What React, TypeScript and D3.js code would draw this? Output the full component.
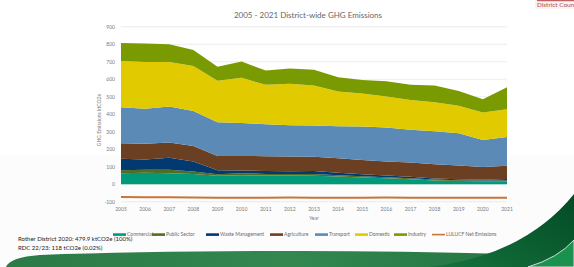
import React, { useRef, useEffect } from "react";
import * as d3 from "d3";

const years = [2005, 2006, 2007, 2008, 2009, 2010, 2011, 2012, 2013, 2014, 2015, 2016, 2017, 2018, 2019, 2020, 2021];
const commercial = [63, 65, 63, 59, 48, 51, 50, 50, 49, 44, 38, 34, 29, 21, 19, 17, 17];
const publicSector = [17, 17, 19, 13, 9, 12, 9, 9, 9, 7, 8, 6, 5, 6, 4, 4, 4];
const wasteManagement = [65, 59, 70, 58, 23, 15, 17, 15, 17, 14, 11, 10, 8, 5, 6, 4, 9];
const agriculture = [89, 91, 86, 89, 82, 84, 84, 84, 82, 84, 82, 80, 82, 82, 78, 74, 75];
const transport = [206, 200, 206, 200, 192, 188, 183, 179, 179, 182, 191, 194, 188, 189, 184, 154, 165];
const domestic = [265, 267, 255, 257, 238, 258, 225, 238, 229, 199, 188, 177, 170, 166, 157, 157, 159];
const industry = [102, 105, 101, 92, 80, 93, 82, 86, 89, 81, 78, 88, 86, 95, 85, 76, 125];
const lulucf = [-73, -74, -75, -76, -77, -77, -77, -76, -77, -77, -77, -76, -77, -77, -77, -77, -77];

const seriesNames = ["Commercial", "Public Sector", "Waste Management", "Agriculture", "Transport", "Domestic", "Industry"];
const seriesValues = [commercial, publicSector, wasteManagement, agriculture, transport, domestic, industry];
const seriesColors = ["#00997a", "#546b22", "#003a70", "#6b3f22", "#5b8ab6", "#e1cb00", "#7a9a01"];
const lineName = "LULUCF Net Emissions";
const lineColor = "#c5763a";
const yTicks = [-100, 0, 100, 200, 300, 400, 500, 600, 700, 800, 900];

const FONT = "Lato, 'Open Sans', sans-serif";

export default function App() {
  const ref = useRef<SVGSVGElement>(null);
  const width = 574;
  const height = 267;

  useEffect(() => {
    const svg = d3.select(ref.current);
    svg.selectAll("*").remove();

    // 背景の装飾
    const defs = svg.append("defs");
    const g1 = defs.append("linearGradient").attr("id", "band").attr("x1", 0).attr("x2", 1);
    g1.append("stop").attr("offset", "0").attr("stop-color", "#2b7a47");
    g1.append("stop").attr("offset", "0.5").attr("stop-color", "#33874f");
    g1.append("stop").attr("offset", "1").attr("stop-color", "#1f7040");
    const g2 = defs.append("linearGradient").attr("id", "swoosh").attr("x1", 0).attr("y1", 1).attr("x2", 1).attr("y2", 0);
    g2.append("stop").attr("offset", "0").attr("stop-color", "#15733d");
    g2.append("stop").attr("offset", "1").attr("stop-color", "#034a25");

    svg.append("rect").attr("width", width).attr("height", height).attr("fill", "#ffffff");
    svg.append("rect").attr("y", 155).attr("width", width).attr("height", height - 155).attr("fill", "#fcfcfc");

    svg.append("path")
      .attr("d", "M6,267 Q10,257 40,255 Q150,251 300,251 Q430,251 574,256 L574,267 Z")
      .attr("fill", "url(#band)");
    svg.append("path")
      .attr("d", "M430,267 Q525,255 574,194 L574,267 Z")
      .attr("fill", "url(#swoosh)");
    svg.append("path")
      .attr("d", "M528,267 Q558,258 574,240 L574,267 Z")
      .attr("fill", "#1b9150")
      .attr("stroke", "#ffffff")
      .attr("stroke-width", 0.8);

    // ロゴ
    svg.append("rect").attr("x", 535).attr("y", 0).attr("width", 39).attr("height", 9).attr("fill", "#fbf1f1");
    svg.append("text").attr("x", 537).attr("y", 7).attr("font-family", FONT)
      .attr("font-size", 6.4).attr("fill", "#b0504a").text("District Council");
    svg.append("rect").attr("x", 537).attr("y", 0).attr("width", 37).attr("height", 1.2).attr("fill", "#c06060");

    // スケール
    const x = d3.scaleLinear().domain([2005, 2021]).range([121, 507]);
    const y = d3.scaleLinear().domain([-100, 900]).range([201.7, 26.8]);

    // グリッド
    svg.append("g").selectAll("line").data(yTicks).enter().append("line")
      .attr("x1", 121).attr("x2", 507)
      .attr("y1", d => y(d)).attr("y2", d => y(d))
      .attr("stroke", "#e4e4e4").attr("stroke-width", 0.7);

    // 積み上げ
    const table = years.map((yr, i) => {
      const row: any = { year: yr };
      seriesNames.forEach((n, k) => { row[n] = seriesValues[k][i]; });
      return row;
    });
    const stacked = d3.stack().keys(seriesNames)(table);
    const area = d3.area<any>()
      .x(d => x(d.data.year))
      .y0(d => y(d[0]))
      .y1(d => y(d[1]));
    svg.append("g").selectAll("path").data(stacked).enter().append("path")
      .attr("d", d => area(d as any))
      .attr("fill", (_, i) => seriesColors[i]);

    // LULUCF
    const line = d3.line<number>().x((_, i) => x(years[i])).y(d => y(d));
    svg.append("path").attr("d", line(lulucf)).attr("fill", "none")
      .attr("stroke", lineColor).attr("stroke-width", 2);

    // 軸ラベル
    svg.append("g").selectAll("text").data(yTicks).enter().append("text")
      .attr("x", 115).attr("y", d => y(d) + 1.8)
      .attr("text-anchor", "end").attr("font-family", FONT).attr("font-size", 5)
      .attr("fill", "#7a7a7a").text(d => d);
    svg.append("g").selectAll("text").data(years).enter().append("text")
      .attr("x", d => x(d)).attr("y", 211)
      .attr("text-anchor", "middle").attr("font-family", FONT).attr("font-size", 5)
      .attr("fill", "#7a7a7a").text(d => d);
    svg.append("text").attr("x", 314).attr("y", 220).attr("text-anchor", "middle")
      .attr("font-family", FONT).attr("font-size", 5).attr("fill", "#7a7a7a").text("Year");
    svg.append("text").attr("transform", "translate(101,120) rotate(-90)").attr("text-anchor", "middle")
      .attr("font-family", FONT).attr("font-size", 5).attr("fill", "#7a7a7a").text("GHG Emissions ktCO2e");

    // タイトル
    svg.append("text").attr("x", 308).attr("y", 18).attr("text-anchor", "middle")
      .attr("font-family", FONT).attr("font-size", 8).attr("fill", "#666666")
      .text("2005 - 2021 District-wide GHG Emissions");

    // 凡例
    const legendX = [113, 152, 206, 270, 315, 355, 394];
    seriesNames.forEach((n, i) => {
      svg.append("rect").attr("x", legendX[i]).attr("y", 233.3).attr("width", 13).attr("height", 2.6)
        .attr("fill", seriesColors[i]);
      svg.append("text").attr("x", legendX[i] + 14).attr("y", 236.2)
        .attr("font-family", FONT).attr("font-size", 5).attr("fill", "#6a6a6a").text(n);
    });
    svg.append("line").attr("x1", 432).attr("x2", 445).attr("y1", 234.6).attr("y2", 234.6)
      .attr("stroke", lineColor).attr("stroke-width", 1.6);
    svg.append("text").attr("x", 446).attr("y", 236.2)
      .attr("font-family", FONT).attr("font-size", 5).attr("fill", "#6a6a6a").text(lineName);

    // 注記
    svg.append("text").attr("x", 18).attr("y", 241).attr("font-family", FONT).attr("font-size", 6)
      .attr("fill", "#1a1a1a").text("Rother District 2020: 479.9 ktCO2e (100%)");
    svg.append("text").attr("x", 18).attr("y", 249.5).attr("font-family", FONT).attr("font-size", 6)
      .attr("fill", "#1a1a1a").text("RDC 22/23: 118 tCO2e (0.02%)");
  }, []);

  return (
    <svg ref={ref} width={width} height={height}
      style={{ position: "absolute", left: 0, top: 0, display: "block" }} />
  );
}
